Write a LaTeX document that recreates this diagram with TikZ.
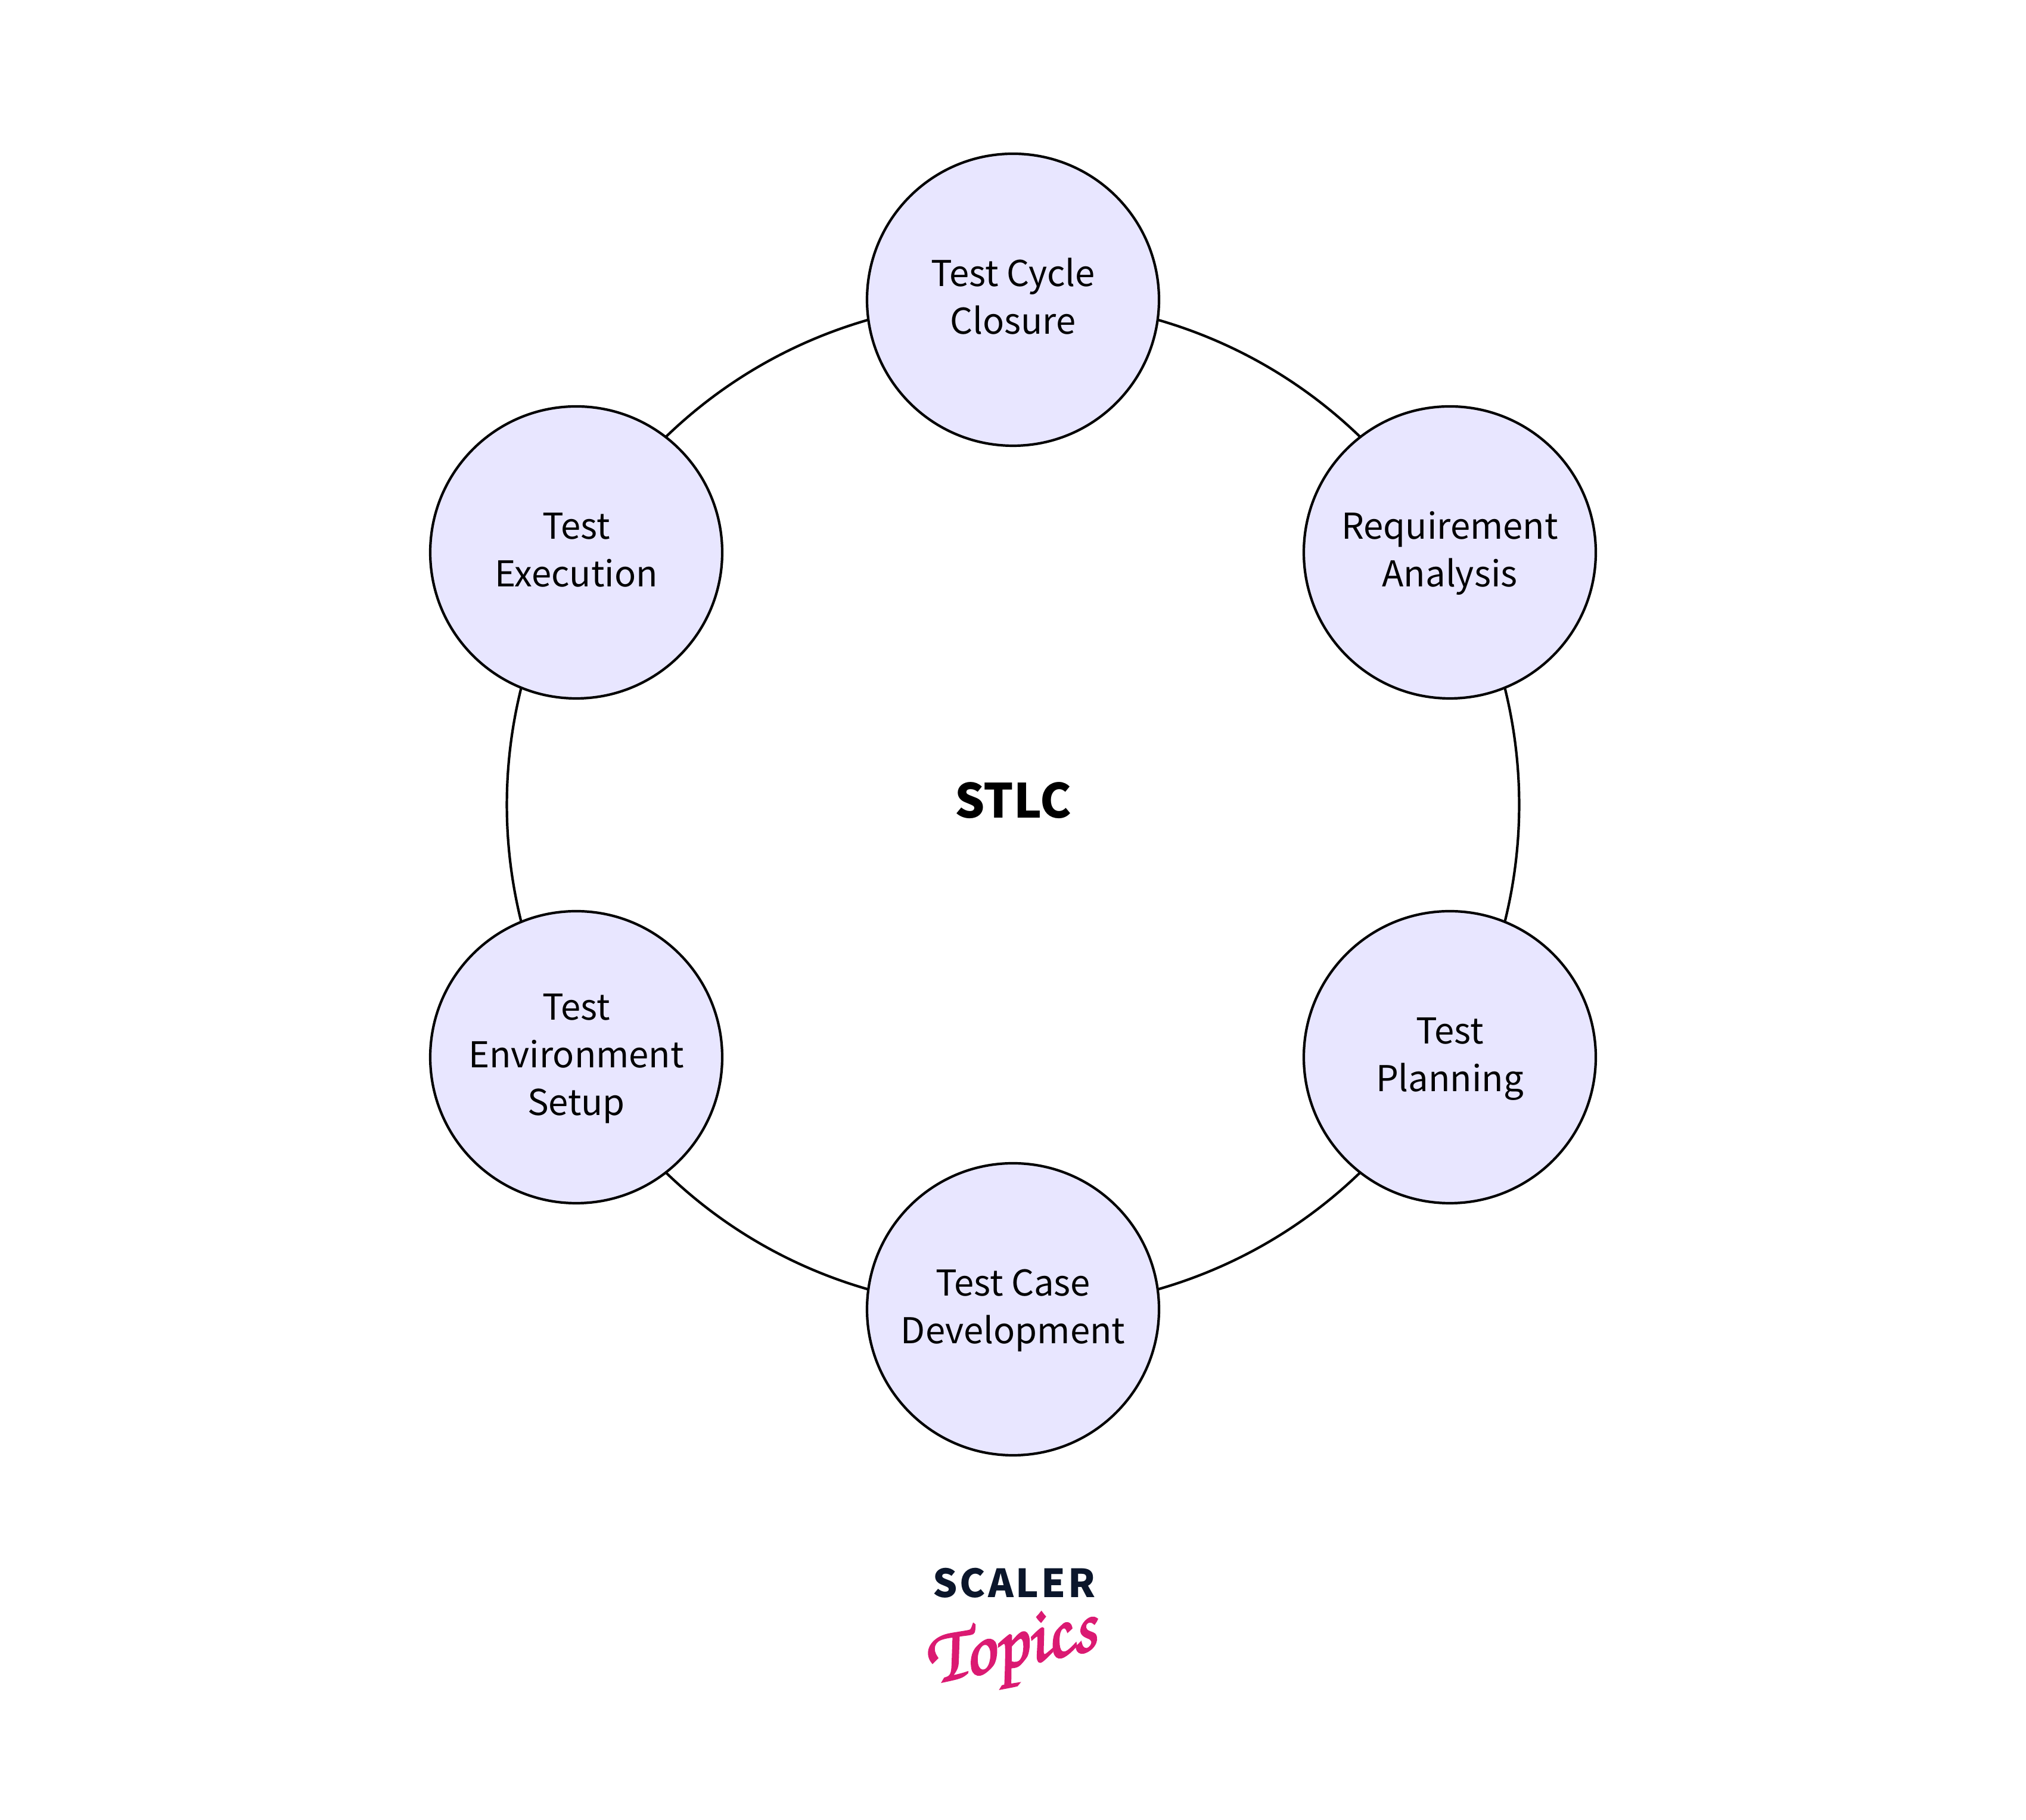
\documentclass[tikz,border=0pt]{standalone}
\usepackage[T1,TU]{fontenc}
\usepackage{fontspec}
\setmainfont{Noto Sans CJK SC}
\newfontfamily\logofont[LetterSpace=6]{Noto Sans CJK SC}
\usetikzlibrary{shapes,backgrounds}
\definecolor{stagefill}{HTML}{E8E6FF}
\definecolor{logonavy}{HTML}{0B162B}
\definecolor{logopink}{HTML}{DB1A72}
\newcommand{\stagestrut}{\rule[-4pt]{0pt}{18pt}}
\tikzset{
	stage/.style={shape=circle, draw=black, fill=stagefill, line width=0.042cm, minimum size=4.9cm, inner sep=0pt, align=center, font=\fontsize{17}{22.8}\selectfont},
	ring/.style={line width=0.042cm, bend left=30, looseness=0.94}
}
\begin{document}
\begin{tikzpicture}

	\useasboundingbox (0,0) rectangle (34,30.54);

	\draw (17,25.51) node[stage](closure){\stagestrut Test Cycle\\Closure\stagestrut};
	\draw (24.33,21.27) node[stage](analysis){\stagestrut Requirement\\Analysis\stagestrut};
	\draw (24.33,12.80) node[stage](planning){\stagestrut Test\\Planning\stagestrut};
	\draw (17,8.57) node[stage](development){\stagestrut Test Case\\Development\stagestrut};
	\draw (9.67,12.80) node[stage](setup){\stagestrut Test\\Environment\\Setup\stagestrut};
	\draw (9.67,21.27) node[stage](execution){\stagestrut Test\\Execution\stagestrut};
	\draw (17,17.11) node[font=\fontsize{22.5}{30}\selectfont\bfseries](stlc){STLC};
	\draw (17.02,3.98) node[font=\fontsize{18.5}{24}\logofont\bfseries, text=logonavy](scaler){SCALER};
	\draw (16.98,2.80) node[rotate=12, text=logopink, font=\fontsize{37}{37}\usefont{T1}{pzc}{mb}{it}](topics){\special{pdf:code 2 Tr 0.8 w}Topics\special{pdf:code 0 Tr}};

	\begin{scope}[on background layer]
		\draw [ring](closure.center) to (analysis.center);
		\draw [ring](analysis.center) to (planning.center);
		\draw [ring](planning.center) to (development.center);
		\draw [ring](development.center) to (setup.center);
		\draw [ring](setup.center) to (execution.center);
		\draw [ring](execution.center) to (closure.center);
	\end{scope}
\end{tikzpicture}
\end{document}
